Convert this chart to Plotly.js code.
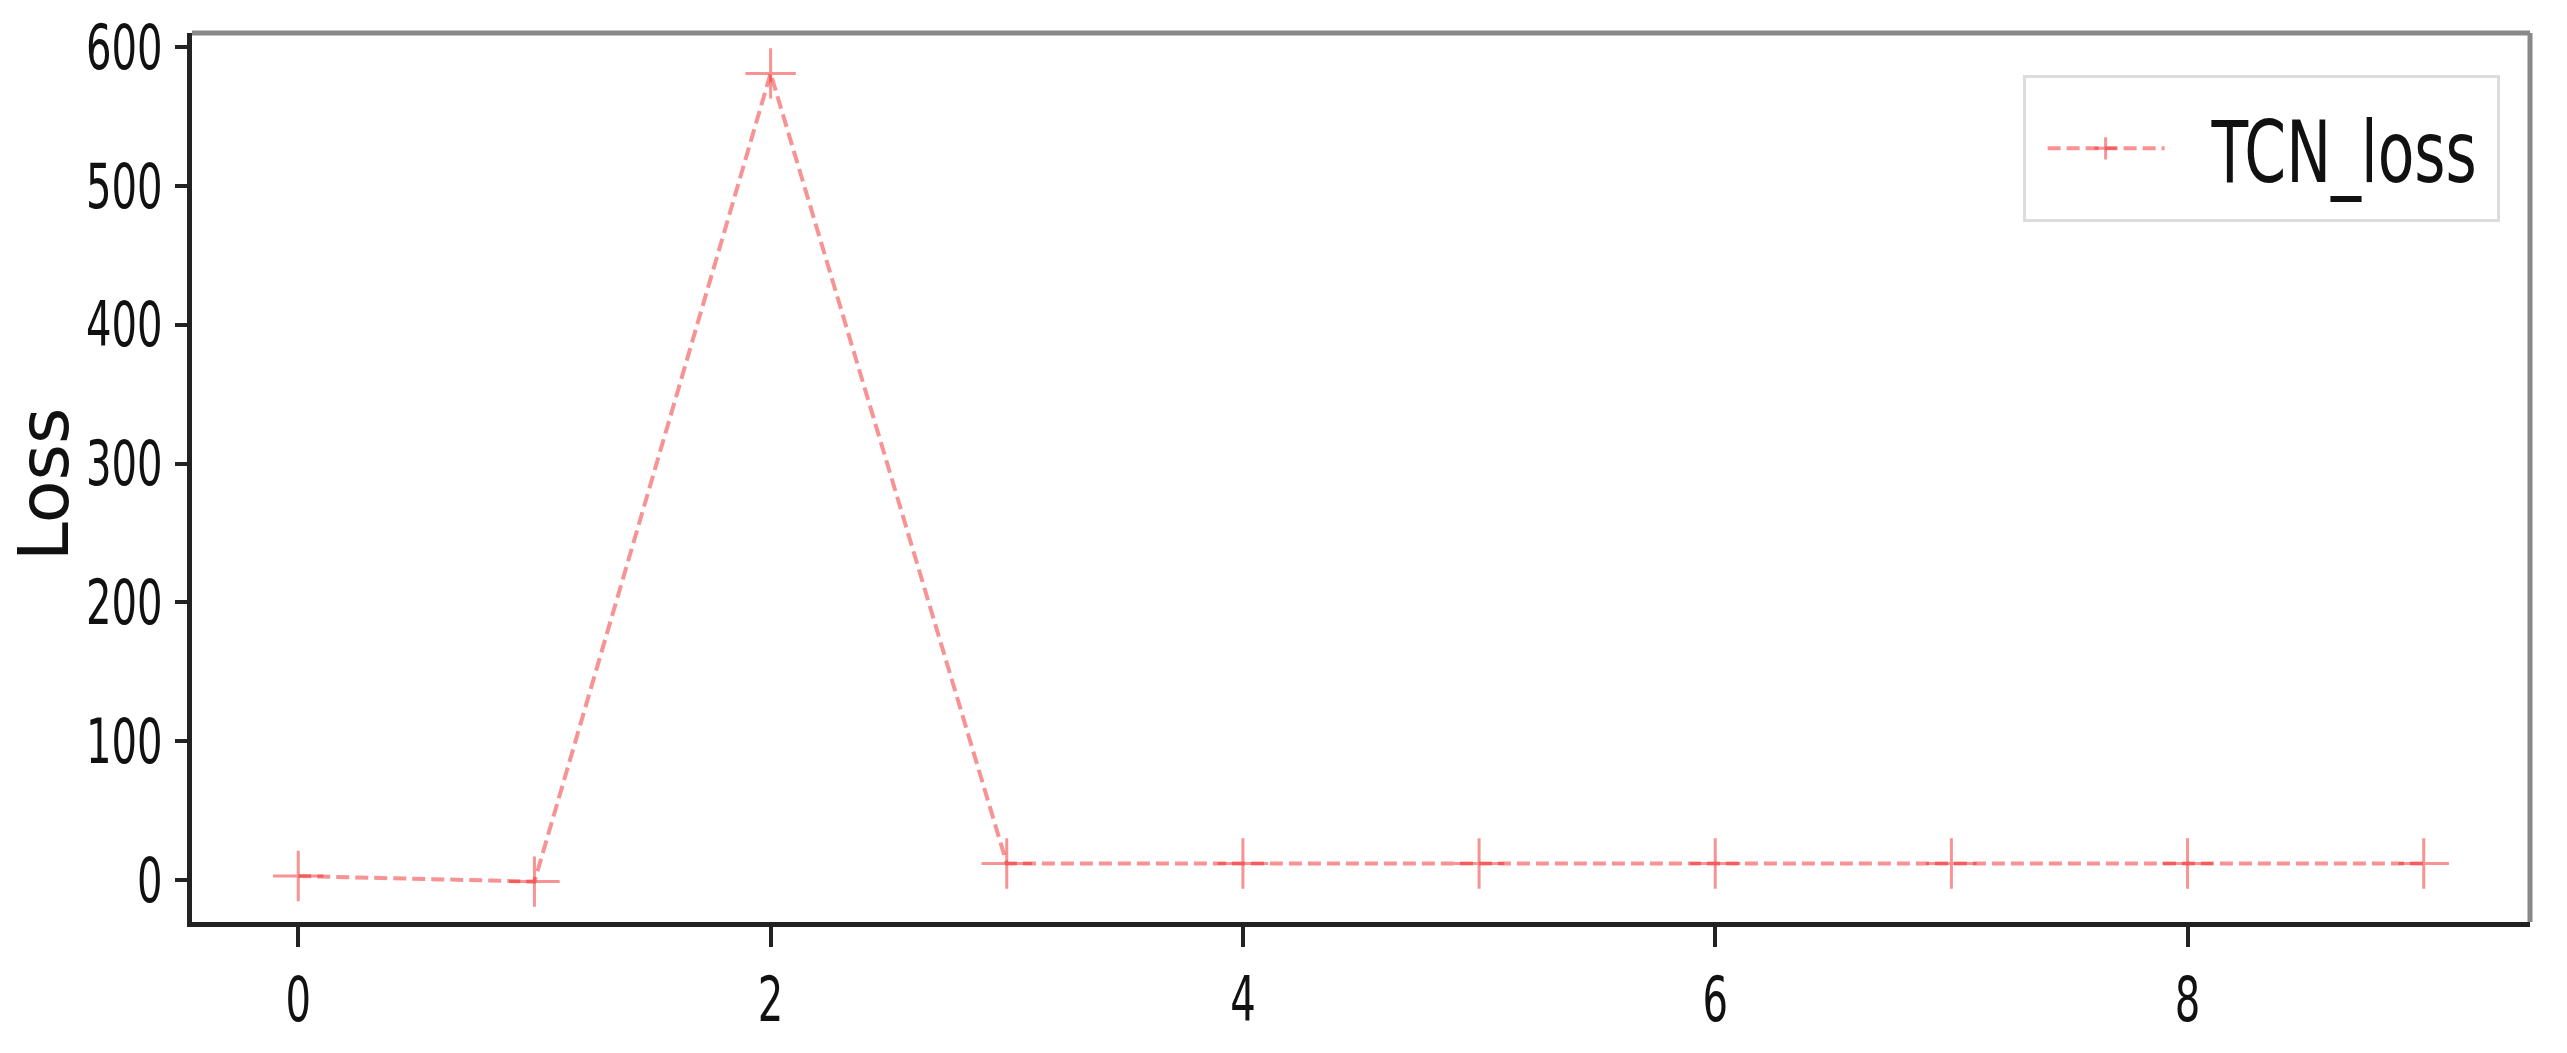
<!DOCTYPE html>
<html>
<head>
<meta charset="utf-8">
<script src="https://cdn.plot.ly/plotly-3.0.1.min.js"></script>
<style>
  html, body { margin: 0; padding: 0; background: #fff; }
  #graph { width: 2567px; height: 1053px; }
</style>
</head>
<body>
<div id="graph"></div>
<script>
// data
var epochs = [0, 1, 2, 3, 4, 5, 6, 7, 8, 9];
var tcnLoss = [3, -1, 581, 12, 12, 12, 12, 12, 12, 12];
var xTickVals = [0, 2, 4, 6, 8];
var yTickVals = [0, 100, 200, 300, 400, 500, 600];
var seriesName = 'TCN_loss';
var yLabel = 'Loss';

var narrow = '"DejaVu Sans Condensed", "DejaVu Sans", sans-serif';
var tickFont = {family: narrow, size: 62, color: '#111'};
var lossRed = 'rgba(240, 40, 40, 0.5)';
var legendBoxWidth = 474;

var traces = [
  {
    type: 'scatter',
    mode: 'lines+markers',
    name: seriesName,
    x: epochs,
    y: tcnLoss,
    line: {color: lossRed, width: 4, dash: '13px,6px'},
    marker: {symbol: 'cross-thin', size: 36, line: {color: lossRed, width: 3}}
  }
];

var layout = {
  width: 2567,
  height: 1053,
  margin: {l: 192, r: 37, t: 33, b: 131},
  paper_bgcolor: '#fff',
  plot_bgcolor: '#fff',
  showlegend: true,
  legend: {
    x: 0.987, xanchor: 'right',
    y: 0.9528, yanchor: 'top',
    bgcolor: '#fff',
    bordercolor: '#dcdcdc',
    borderwidth: 3,
    itemwidth: 176,
    font: {family: narrow, size: 86, color: '#111'}
  },
  xaxis: {
    range: [-0.45, 9.45],
    tickvals: xTickVals,
    ticks: 'outside',
    ticklen: 20,
    tickwidth: 4,
    tickcolor: '#222',
    tickfont: tickFont,
    showgrid: false,
    zeroline: false,
    showline: true,
    linecolor: '#222',
    linewidth: 5
  },
  yaxis: {
    range: [-30.1, 610.1],
    tickvals: yTickVals,
    ticks: 'outside',
    ticklen: 12,
    tickwidth: 4,
    tickcolor: '#222',
    tickfont: tickFont,
    showgrid: false,
    zeroline: false,
    showline: true,
    linecolor: '#222',
    linewidth: 5
  },
  annotations: [
    {
      text: yLabel, textangle: -90, showarrow: false,
      xref: 'paper', yref: 'paper', x: -0.0633, y: 0.4927,
      xanchor: 'center', yanchor: 'middle',
      font: {family: 'DejaVu Sans', size: 70, color: '#111'}
    }
  ],
  shapes: [
    // top and right frame, lighter grey in the picture
    {type: 'line', xref: 'paper', yref: 'paper', x0: 0, x1: 1, y0: 1, y1: 1, line: {color: '#888', width: 5}},
    {type: 'line', xref: 'paper', yref: 'paper', x0: 1, x1: 1, y0: 0, y1: 1, line: {color: '#888', width: 5}}
  ]
};

var config = {staticPlot: true};

// squeeze text sideways around its anchor, the picture uses a very narrow face
function squeeze(el, s) {
  var ax = parseFloat(el.getAttribute('x')) || 0;
  var t = el.getAttribute('transform') || '';
  el.setAttribute('transform', t + ' translate(' + ax + ',0) scale(' + s + ',1) translate(' + (-ax) + ',0)');
}

Plotly.newPlot('graph', traces, layout, config).then(function(gd) {
  gd.querySelectorAll('.xtick text, .ytick text').forEach(function(el) { squeeze(el, 0.72); });
  gd.querySelectorAll('.legend .legendtext').forEach(function(el) { squeeze(el, 0.775); });
  // longer legend sample, like matplotlib
  gd.querySelectorAll('.legend .legendlines path').forEach(function(el) { el.setAttribute('d', 'M22,0h117'); });
  gd.querySelectorAll('.legend .legendpoints path').forEach(function(el) { el.setAttribute('transform', 'translate(80,0)'); });
  var leg = gd.querySelector('.legend');
  var bg = gd.querySelector('.legend rect.bg');
  if (leg && bg) {
    var oldW = parseFloat(bg.getAttribute('width'));
    bg.setAttribute('width', legendBoxWidth);
    bg.setAttribute('height', parseFloat(bg.getAttribute('height')) + 16);
    // keep the right edge where it was
    leg.setAttribute('transform', (leg.getAttribute('transform') || '') + ' translate(' + (oldW - legendBoxWidth) + ',0)');
  }
  gd.querySelectorAll('.legend .traces').forEach(function(el) {
    el.setAttribute('transform', (el.getAttribute('transform') || '') + ' translate(0,8)');
  });
});
</script>
</body>
</html>
